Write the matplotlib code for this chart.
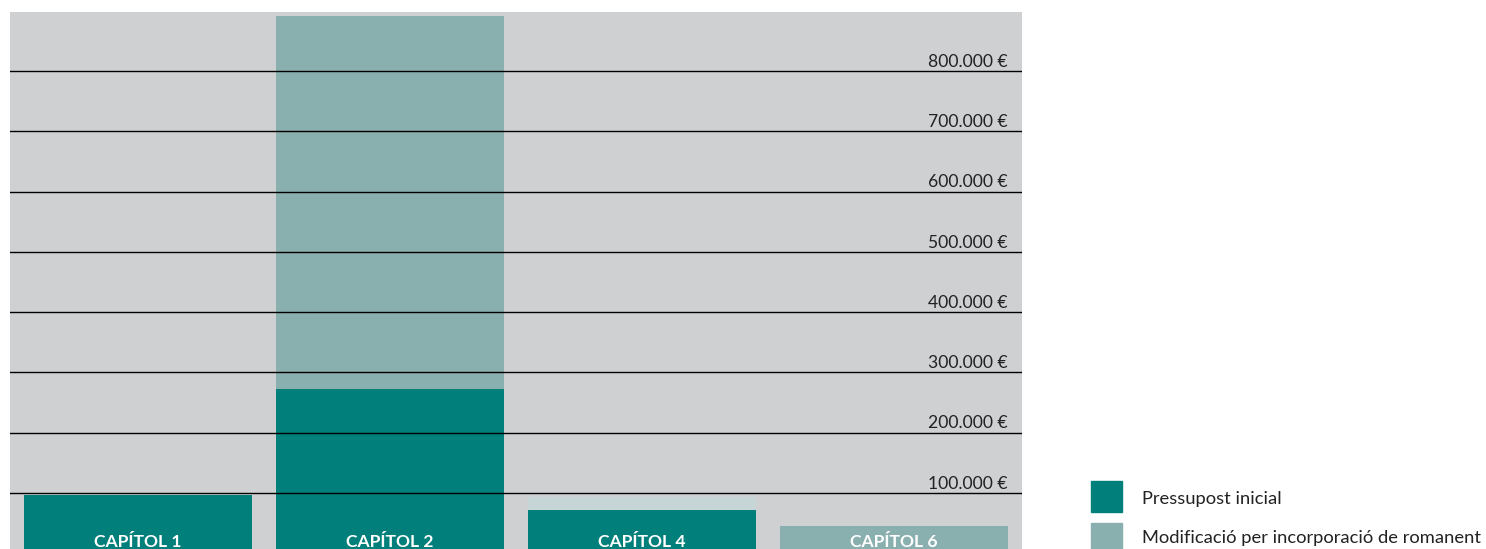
import matplotlib
matplotlib.use('Agg')
import matplotlib.pyplot as plt
from matplotlib.patches import Rectangle
import numpy as np

# Data
capitols = ['CAPÍTOL 1', 'CAPÍTOL 2', 'CAPÍTOL 4', 'CAPÍTOL 6']
pressupost_inicial = [96700, 272500, 71800, 0]
modificacio = [0, 618500, 21600, 45300]
series_names = ['Pressupost inicial', 'Modificació per incorporació de romanent']
y_ticks = [100000, 200000, 300000, 400000, 500000, 600000, 700000, 800000]

dark = '#007f7b'
light = '#8aafaf'
pale = '#c6d6d6'
bg = '#cfd0d2'

W, H = 1486, 549
fig = plt.figure(figsize=(W / 100, H / 100), dpi=100)
fig.patch.set_facecolor('white')
ax = fig.add_axes([10 / W, 0, 1012 / W, 1 - 12 / H])
ax.set_facecolor(bg)

x = np.arange(len(capitols))
width = 0.905
ax.bar(x, pressupost_inicial, width=width, color=dark, zorder=2)
# Capítol 4's modification segment is drawn paler in the original
mod_colors = [light, light, pale, light]
ax.bar(x, modificacio, width=width, bottom=pressupost_inicial, color=mod_colors, zorder=2)

ax.set_xlim(-0.508, 3.508)
ax.set_ylim(7100, 897700)

for v in y_ticks:
    ax.axhline(v, color='black', lw=1.0, zorder=3)
    ax.text(3.451, v + 7000, f'{v:,.0f}'.replace(',', '.') + ' €',
            ha='right', va='baseline', fontsize=12.6, color='#222222',
            family='Lato', zorder=4)

for i, name in enumerate(capitols):
    ax.text(i, 10500, name, ha='center', va='baseline', color='white',
            fontsize=12.6, fontweight='bold', family='Lato', zorder=4)

ax.set_xticks([])
ax.set_yticks([])
for s in ax.spines.values():
    s.set_visible(False)

# Legend drawn by hand
leg_colors = [dark, light]
leg_top = [481, 523]
leg_base = [504, 543]
for name, c, top, base in zip(series_names, leg_colors, leg_top, leg_base):
    fig.add_artist(Rectangle((1091 / W, 1 - (top + 31) / H), 31 / W, 31 / H,
                             transform=fig.transFigure, color=c))
    fig.text(1142 / W, 1 - base / H, name, ha='left', va='baseline',
             fontsize=13.2, color='#222222', family='Lato')

fig.savefig('out.png', dpi=100)
